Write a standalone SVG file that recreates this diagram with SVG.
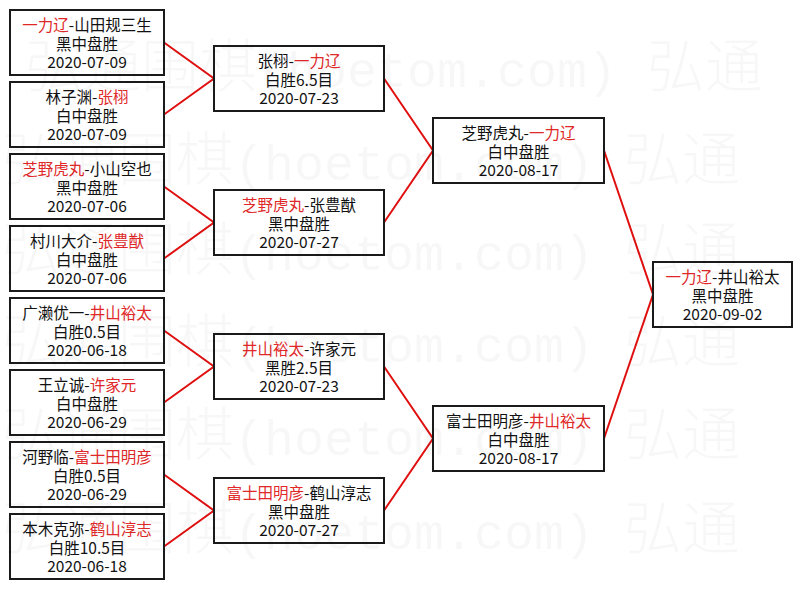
<svg xmlns="http://www.w3.org/2000/svg" width="802" height="589" viewBox="0 0 802 589">
<style>
.box{fill:#fff;stroke:#1a1a1a;stroke-width:2}
.t{font-family:"Noto Sans CJK SC","Noto Sans CJK JP",sans-serif;font-size:15.5px;fill:#111;text-anchor:middle}
.r{fill:#e02828}
.link{fill:none;stroke:#e01010;stroke-width:2}
.wm{font-family:"Noto Sans CJK SC",sans-serif;font-weight:300;font-size:58px;fill:#000;fill-opacity:0.03}
.wl{font-family:"Liberation Mono",monospace;font-size:50px}
</style>
<rect width="802" height="589" fill="#fff"/>
<g id="connectors">
<polyline class="link" points="164,42.5 214,78.5 164,114.5"/>
<polyline class="link" points="164,186.5 214,222.5 164,258.5"/>
<polyline class="link" points="164,330.5 214,366.5 164,402.5"/>
<polyline class="link" points="164,474.5 214,510.5 164,546.5"/>
<polyline class="link" points="384,78.5 433,150.5 384,222.5"/>
<polyline class="link" points="384,366.5 433,438.5 384,510.5"/>
<polyline class="link" points="604,150.5 653,294.5 604,438.5"/>
</g>
<g id="r1m1"><rect class="box" x="10" y="10" width="154" height="65"/>
<text class="t" x="87" y="30.5"><tspan class="r">一力辽</tspan>-山田规三生</text>
<text class="t" x="87" y="50">黑中盘胜</text><text class="t" x="87" y="68">2020-07-09</text></g>
<g id="r1m2"><rect class="box" x="10" y="82" width="154" height="65"/>
<text class="t" x="87" y="102.5">林子渊-<tspan class="r">张栩</tspan></text>
<text class="t" x="87" y="122">白中盘胜</text><text class="t" x="87" y="140">2020-07-09</text></g>
<g id="r1m3"><rect class="box" x="10" y="154" width="154" height="65"/>
<text class="t" x="87" y="174.5"><tspan class="r">芝野虎丸</tspan>-小山空也</text>
<text class="t" x="87" y="194">黑中盘胜</text><text class="t" x="87" y="212">2020-07-06</text></g>
<g id="r1m4"><rect class="box" x="10" y="226" width="154" height="65"/>
<text class="t" x="87" y="246.5">村川大介-<tspan class="r">张豊猷</tspan></text>
<text class="t" x="87" y="266">白中盘胜</text><text class="t" x="87" y="284">2020-07-06</text></g>
<g id="r1m5"><rect class="box" x="10" y="298" width="154" height="65"/>
<text class="t" x="87" y="318.5">广濑优一-<tspan class="r">井山裕太</tspan></text>
<text class="t" x="87" y="338">白胜0.5目</text><text class="t" x="87" y="356">2020-06-18</text></g>
<g id="r1m6"><rect class="box" x="10" y="370" width="154" height="65"/>
<text class="t" x="87" y="390.5">王立诚-<tspan class="r">许家元</tspan></text>
<text class="t" x="87" y="410">白中盘胜</text><text class="t" x="87" y="428">2020-06-29</text></g>
<g id="r1m7"><rect class="box" x="10" y="442" width="154" height="65"/>
<text class="t" x="87" y="462.5">河野临-<tspan class="r">富士田明彦</tspan></text>
<text class="t" x="87" y="482">白胜0.5目</text><text class="t" x="87" y="500">2020-06-29</text></g>
<g id="r1m8"><rect class="box" x="10" y="514" width="154" height="65"/>
<text class="t" x="87" y="534.5">本木克弥-<tspan class="r">鹤山淳志</tspan></text>
<text class="t" x="87" y="554">白胜10.5目</text><text class="t" x="87" y="572">2020-06-18</text></g>
<g id="r2m1"><rect class="box" x="214" y="46" width="170" height="65"/>
<text class="t" x="299" y="66.5">张栩-<tspan class="r">一力辽</tspan></text>
<text class="t" x="299" y="86">白胜6.5目</text><text class="t" x="299" y="104">2020-07-23</text></g>
<g id="r2m2"><rect class="box" x="214" y="190" width="170" height="65"/>
<text class="t" x="299" y="210.5"><tspan class="r">芝野虎丸</tspan>-张豊猷</text>
<text class="t" x="299" y="230">黑中盘胜</text><text class="t" x="299" y="248">2020-07-27</text></g>
<g id="r2m3"><rect class="box" x="214" y="334" width="170" height="65"/>
<text class="t" x="299" y="354.5"><tspan class="r">井山裕太</tspan>-许家元</text>
<text class="t" x="299" y="374">黑胜2.5目</text><text class="t" x="299" y="392">2020-07-23</text></g>
<g id="r2m4"><rect class="box" x="214" y="478" width="170" height="65"/>
<text class="t" x="299" y="498.5"><tspan class="r">富士田明彦</tspan>-鹤山淳志</text>
<text class="t" x="299" y="518">黑中盘胜</text><text class="t" x="299" y="536">2020-07-27</text></g>
<g id="r3m1"><rect class="box" x="433" y="118" width="171" height="65"/>
<text class="t" x="518.5" y="138.5">芝野虎丸-<tspan class="r">一力辽</tspan></text>
<text class="t" x="518.5" y="158">白中盘胜</text><text class="t" x="518.5" y="176">2020-08-17</text></g>
<g id="r3m2"><rect class="box" x="433" y="406" width="171" height="65"/>
<text class="t" x="518.5" y="426.5">富士田明彦-<tspan class="r">井山裕太</tspan></text>
<text class="t" x="518.5" y="446">白中盘胜</text><text class="t" x="518.5" y="464">2020-08-17</text></g>
<g id="final"><rect class="box" x="653" y="262" width="139" height="65"/>
<text class="t" x="722.5" y="282.5"><tspan class="r">一力辽</tspan>-井山裕太</text>
<text class="t" x="722.5" y="302">黑中盘胜</text><text class="t" x="722.5" y="320">2020-09-02</text></g>
<g id="watermark" class="wm">
<text x="25" y="87">弘通围棋<tspan class="wl">(hoetom.com) </tspan>弘通</text>
<text x="2" y="180">弘通围棋<tspan class="wl">(hoetom.com) </tspan>弘通</text>
<text x="2" y="270">弘通围棋<tspan class="wl">(hoetom.com) </tspan>弘通</text>
<text x="2" y="362">弘通围棋<tspan class="wl">(hoetom.com) </tspan>弘通</text>
<text x="2" y="455">弘通围棋<tspan class="wl">(hoetom.com) </tspan>弘通</text>
<text x="2" y="549">弘通围棋<tspan class="wl">(hoetom.com) </tspan>弘通</text>
</g>
</svg>
